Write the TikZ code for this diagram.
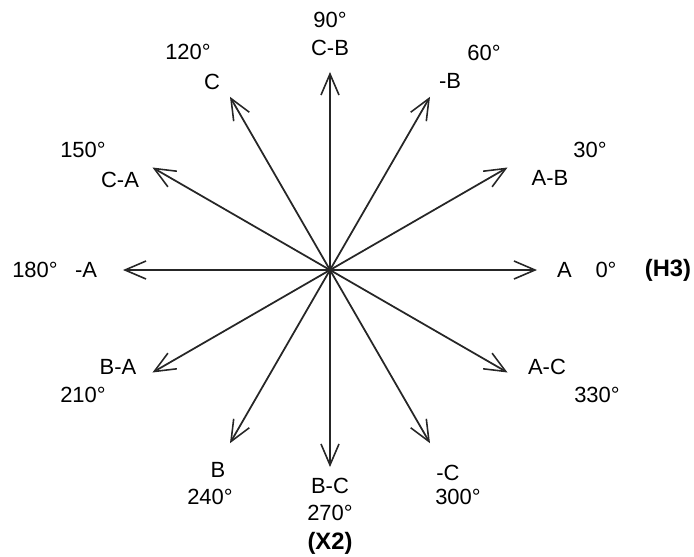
\documentclass[tikz,border=0pt]{standalone}
\usepackage{fontspec}
\setmainfont{Liberation Sans}
\usetikzlibrary{arrows.meta}

\begin{document}
\begin{tikzpicture}[
    vec/.style={-{Straight Barb[length=4.2mm,width=3.6mm,line width=0.9pt]}, line width=1pt, draw=black!85},
    lbl/.style={inner sep=0pt, font=\fontsize{12.5}{14}\selectfont},
    tag/.style={lbl, font=\fontsize{13.5}{15}\selectfont\bfseries}]

  \useasboundingbox (-6.6,-5.74) rectangle (7.28,5.4);

  % centre and arrow tips
  \coordinate (O) at (0,0);
  \coordinate (t0)   at (0:4.14);
  \coordinate (t30)  at (30:4.1);
  \coordinate (t60)  at (60:4.0);
  \coordinate (t90)  at (90:3.96);
  \coordinate (t120) at (120:4.0);
  \coordinate (t150) at (150:4.1);
  \coordinate (t180) at (180:4.14);
  \coordinate (t210) at (210:4.1);
  \coordinate (t240) at (240:4.0);
  \coordinate (t270) at (270:3.94);
  \coordinate (t300) at (300:4.0);
  \coordinate (t330) at (330:4.1);

  % vectors
  \draw[vec] (O) -- (t0);
  \draw[vec] (O) -- (t30);
  \draw[vec] (O) -- (t60);
  \draw[vec] (O) -- (t90);
  \draw[vec] (O) -- (t120);
  \draw[vec] (O) -- (t150);
  \draw[vec] (O) -- (t180);
  \draw[vec] (O) -- (t210);
  \draw[vec] (O) -- (t240);
  \draw[vec] (O) -- (t270);
  \draw[vec] (O) -- (t300);
  \draw[vec] (O) -- (t330);

  % labels (top)
  \node[lbl] (d90)  at (0,5.0)      {90°};
  \node[lbl] (n90)  at (0,4.44)     {C-B};
  \node[lbl] (d120) at (-2.84,4.36) {120°};
  \node[lbl] (n120) at (-2.36,3.76) {C};
  \node[lbl] (d60)  at (3.08,4.34)  {60°};
  \node[lbl] (n60)  at (2.4,3.78)   {-B};
  \node[lbl] (d150) at (-4.94,2.4)  {150°};
  \node[lbl] (n150) at (-4.2,1.8)   {C-A};
  \node[lbl] (d30)  at (5.2,2.4)    {30°};
  \node[lbl] (n30)  at (4.4,1.84)   {A-B};

  % labels (middle)
  \node[lbl] (d180) at (-5.9,0)     {180°};
  \node[lbl] (n180) at (-4.88,0)    {-A};
  \node[lbl] (n0)   at (4.69,0)     {A};
  \node[lbl] (d0)   at (5.52,0)     {0°};
  \node[tag] (h3)   at (6.76,0)     {(H3)};

  % labels (bottom)
  \node[lbl] (n210) at (-4.24,-1.94) {B-A};
  \node[lbl] (d210) at (-4.94,-2.5)  {210°};
  \node[lbl] (n330) at (4.34,-1.94)  {A-C};
  \node[lbl] (d330) at (5.34,-2.5)   {330°};
  \node[lbl] (n240) at (-2.24,-4.0)  {B};
  \node[lbl] (d240) at (-2.4,-4.54)  {240°};
  \node[lbl] (n270) at (0,-4.32)     {B-C};
  \node[lbl] (d270) at (0,-4.86)     {270°};
  \node[tag] (x2)   at (0,-5.46)     {(X2)};
  \node[lbl] (n300) at (2.36,-4.06)  {-C};
  \node[lbl] (d300) at (2.56,-4.54)  {300°};

\end{tikzpicture}
\end{document}
